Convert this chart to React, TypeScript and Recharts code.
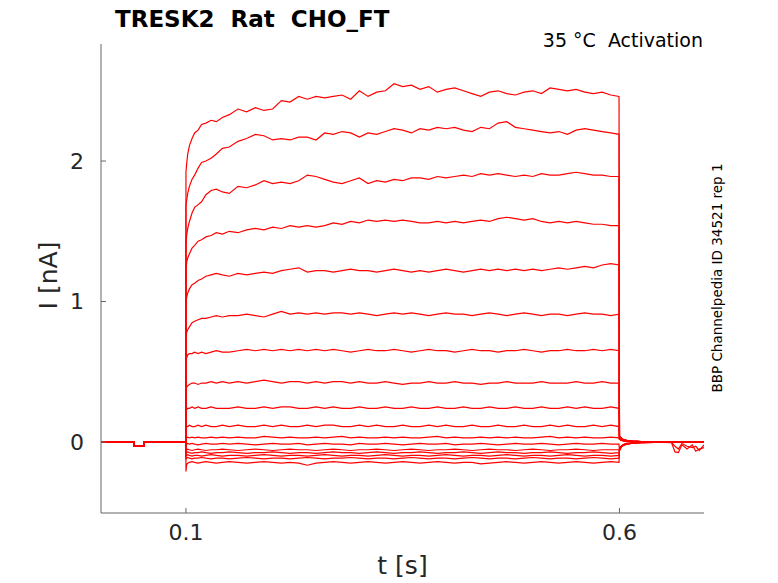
import React from 'react';
import { LineChart, Line, XAxis, YAxis, Label } from 'recharts';

// time grid (s)
const preTimes = [0.002, 0.015, 0.03, 0.0399, 0.04, 0.0514, 0.0515, 0.065, 0.08, 0.0999];
const preVals = [0.003, 0, 0.002, 0, -0.03, -0.03, 0, 0.002, 0, 0];

const pulseTimes = [
  0.1, 0.1008, 0.102, 0.104, 0.107, 0.11, 0.114, 0.118, 0.123, 0.129, 0.135, 0.142,
  0.15, 0.16, 0.17, 0.18, 0.19, 0.2, 0.21, 0.22, 0.23, 0.24,
  0.25, 0.26, 0.27, 0.28, 0.29, 0.3, 0.31, 0.32, 0.33, 0.34,
  0.35, 0.36, 0.37, 0.38, 0.39, 0.4, 0.41, 0.42, 0.43, 0.44,
  0.45, 0.46, 0.47, 0.48, 0.49, 0.5, 0.51, 0.52, 0.53, 0.54,
  0.55, 0.56, 0.57, 0.58, 0.59, 0.5995,
];

const postTimes = [0.6, 0.6015, 0.604, 0.608, 0.615, 0.625, 0.64, 0.66, 0.664, 0.668, 0.672, 0.678, 0.684, 0.688, 0.692, 0.6975];

// current during the step (nA), one array per sweep
const sweep1 = [
  1.92, 1.98, 2.05, 2.11, 2.16, 2.2, 2.22, 2.26, 2.27, 2.29, 2.28, 2.31,
  2.33, 2.37, 2.35, 2.38, 2.36, 2.37, 2.43, 2.42, 2.46, 2.44,
  2.46, 2.45, 2.46, 2.47, 2.44, 2.5, 2.46, 2.49, 2.5, 2.55,
  2.53, 2.54, 2.51, 2.53, 2.49, 2.51, 2.52, 2.5, 2.48, 2.46,
  2.49, 2.5, 2.48, 2.47, 2.49, 2.5, 2.48, 2.52, 2.51, 2.5,
  2.51, 2.49, 2.48, 2.49, 2.47, 2.46,
];
const sweep2 = [
  1.68, 1.72, 1.77, 1.82, 1.87, 1.9, 1.95, 1.99, 2.0, 2.02, 2.05, 2.09,
  2.1, 2.14, 2.16, 2.19, 2.18, 2.15, 2.16, 2.15, 2.17, 2.17,
  2.15, 2.2, 2.19, 2.21, 2.2, 2.17, 2.2, 2.19, 2.21, 2.23,
  2.22, 2.2, 2.23, 2.22, 2.24, 2.23, 2.24, 2.22, 2.21, 2.24,
  2.23, 2.27, 2.28, 2.24, 2.23, 2.22, 2.21, 2.2, 2.21, 2.19,
  2.22, 2.23, 2.22, 2.21, 2.2, 2.19,
];
const sweep3 = [
  1.4, 1.47, 1.52, 1.57, 1.63, 1.67, 1.69, 1.71, 1.76, 1.79, 1.8, 1.78,
  1.77, 1.82, 1.81, 1.83, 1.86, 1.84, 1.85, 1.84, 1.86, 1.9,
  1.89, 1.87, 1.85, 1.84, 1.86, 1.88, 1.84, 1.86, 1.85, 1.87,
  1.86, 1.88, 1.88, 1.87, 1.89, 1.88, 1.89, 1.9, 1.89, 1.91,
  1.9, 1.91, 1.9, 1.89, 1.9, 1.89, 1.91, 1.9, 1.9, 1.91,
  1.92, 1.91, 1.9, 1.9, 1.89, 1.89,
];
const sweep4 = [
  1.22, 1.28, 1.31, 1.34, 1.38, 1.4, 1.43, 1.44, 1.46, 1.47, 1.49, 1.48,
  1.5, 1.49, 1.51, 1.52, 1.51, 1.53, 1.52, 1.54, 1.53, 1.54,
  1.53, 1.54, 1.56, 1.55, 1.57, 1.56, 1.58, 1.57, 1.58, 1.57,
  1.58, 1.57, 1.56, 1.56, 1.57, 1.56, 1.57, 1.56, 1.57, 1.58,
  1.57, 1.59, 1.6, 1.59, 1.58, 1.59, 1.57, 1.56, 1.57, 1.56,
  1.57, 1.56, 1.55, 1.55, 1.54, 1.54,
];
const sweep5 = [
  0.98, 1.03, 1.06, 1.09, 1.12, 1.13, 1.15, 1.16, 1.18, 1.19, 1.2, 1.19,
  1.18, 1.2, 1.19, 1.2, 1.21, 1.2, 1.22, 1.23, 1.24, 1.21,
  1.22, 1.22, 1.21, 1.22, 1.23, 1.22, 1.22, 1.21, 1.22, 1.23,
  1.22, 1.21, 1.22, 1.21, 1.22, 1.23, 1.22, 1.21, 1.22, 1.23,
  1.22, 1.23, 1.22, 1.23, 1.22, 1.23, 1.22, 1.23, 1.24, 1.23,
  1.24, 1.25, 1.24, 1.26, 1.27, 1.26,
];
const sweep6 = [
  0.74, 0.78, 0.8, 0.82, 0.85, 0.86, 0.87, 0.88, 0.88, 0.89, 0.9, 0.89,
  0.9, 0.9, 0.91, 0.9, 0.89, 0.91, 0.93, 0.91, 0.92, 0.91,
  0.92, 0.91, 0.92, 0.92, 0.91, 0.92, 0.91, 0.9, 0.91, 0.92,
  0.91, 0.92, 0.91, 0.9, 0.91, 0.92, 0.91, 0.91, 0.9, 0.91,
  0.92, 0.91, 0.9, 0.91, 0.92, 0.91, 0.9, 0.91, 0.91, 0.9,
  0.91, 0.92, 0.91, 0.91, 0.9, 0.91,
];
const sweep7 = [
  0.57, 0.6, 0.62, 0.63, 0.63, 0.64, 0.63, 0.64, 0.63, 0.64, 0.65, 0.64,
  0.64, 0.65, 0.66, 0.65, 0.66, 0.65, 0.66, 0.65, 0.66, 0.65,
  0.66, 0.65, 0.66, 0.65, 0.64, 0.65, 0.66, 0.65, 0.65, 0.66,
  0.65, 0.64, 0.65, 0.66, 0.65, 0.65, 0.64, 0.65, 0.66, 0.65,
  0.65, 0.64, 0.65, 0.65, 0.66, 0.65, 0.64, 0.65, 0.65, 0.66,
  0.65, 0.65, 0.66, 0.65, 0.66, 0.65,
];
const sweep8 = [
  0.37, 0.39, 0.4, 0.41, 0.42, 0.42, 0.41, 0.42, 0.42, 0.43, 0.42, 0.43,
  0.42, 0.43, 0.42, 0.43, 0.44, 0.43, 0.42, 0.43, 0.43, 0.42,
  0.43, 0.42, 0.43, 0.43, 0.42, 0.43, 0.42, 0.42, 0.43, 0.42,
  0.41, 0.42, 0.42, 0.43, 0.42, 0.42, 0.43, 0.42, 0.42, 0.41,
  0.42, 0.42, 0.43, 0.42, 0.42, 0.42, 0.43, 0.42, 0.42, 0.42,
  0.43, 0.42, 0.42, 0.43, 0.42, 0.42,
];
const sweep9 = [
  0.22, 0.23, 0.24, 0.24, 0.25, 0.24, 0.25, 0.24, 0.24, 0.25, 0.24, 0.24,
  0.24, 0.25, 0.24, 0.24, 0.25, 0.24, 0.25, 0.25, 0.24, 0.24,
  0.25, 0.24, 0.25, 0.24, 0.24, 0.25, 0.24, 0.24, 0.25, 0.24,
  0.24, 0.25, 0.24, 0.24, 0.25, 0.24, 0.24, 0.25, 0.24, 0.24,
  0.25, 0.24, 0.24, 0.25, 0.24, 0.24, 0.25, 0.24, 0.24, 0.25,
  0.24, 0.25, 0.24, 0.24, 0.25, 0.24,
];
const sweep10 = [
  0.1, 0.11, 0.11, 0.12, 0.11, 0.11, 0.12, 0.11, 0.12, 0.11, 0.11, 0.12,
  0.11, 0.12, 0.11, 0.11, 0.12, 0.11, 0.12, 0.11, 0.11, 0.12,
  0.11, 0.12, 0.12, 0.11, 0.11, 0.12, 0.11, 0.12, 0.11, 0.11,
  0.12, 0.11, 0.11, 0.12, 0.11, 0.12, 0.11, 0.11, 0.12, 0.11,
  0.11, 0.12, 0.11, 0.11, 0.12, 0.11, 0.11, 0.12, 0.11, 0.12,
  0.11, 0.11, 0.12, 0.11, 0.12, 0.11,
];
const sweep11 = [
  0.025, 0.03, 0.035, 0.03, 0.035, 0.03, 0.035, 0.03, 0.03, 0.035, 0.03, 0.035,
  0.03, 0.035, 0.03, 0.03, 0.04, 0.035, 0.03, 0.035, 0.03, 0.03,
  0.035, 0.03, 0.035, 0.04, 0.03, 0.035, 0.03, 0.03, 0.035, 0.03,
  0.035, 0.03, 0.03, 0.035, 0.04, 0.03, 0.035, 0.03, 0.03, 0.035,
  0.03, 0.035, 0.03, 0.035, 0.03, 0.03, 0.035, 0.04, 0.03, 0.035,
  0.03, 0.035, 0.03, 0.03, 0.035, 0.03,
];
const sweep12 = [
  -0.02, -0.015, -0.01, -0.015, -0.01, -0.015, -0.02, -0.015, -0.01, -0.015, -0.015, -0.01,
  -0.015, -0.01, -0.015, -0.02, -0.015, -0.01, -0.015, -0.015, -0.01, -0.02,
  -0.015, -0.01, -0.015, -0.015, -0.02, -0.01, -0.015, -0.015, -0.01, -0.015,
  -0.02, -0.015, -0.01, -0.015, -0.015, -0.01, -0.02, -0.015, -0.015, -0.01,
  -0.015, -0.02, -0.015, -0.01, -0.015, -0.015, -0.01, -0.015, -0.02, -0.015,
  -0.01, -0.015, -0.015, -0.01, -0.015, -0.015,
];
const sweep13 = [
  -0.06, -0.055, -0.05, -0.055, -0.06, -0.055, -0.05, -0.055, -0.06, -0.055, -0.055, -0.05,
  -0.055, -0.06, -0.055, -0.05, -0.055, -0.06, -0.055, -0.05, -0.055, -0.055,
  -0.06, -0.055, -0.05, -0.055, -0.06, -0.055, -0.055, -0.05, -0.055, -0.06,
  -0.055, -0.05, -0.055, -0.06, -0.055, -0.055, -0.05, -0.055, -0.06, -0.055,
  -0.05, -0.055, -0.055, -0.06, -0.055, -0.05, -0.055, -0.06, -0.055, -0.055,
  -0.05, -0.055, -0.06, -0.055, -0.055, -0.055,
];
const sweep14 = [
  -0.08, -0.075, -0.07, -0.075, -0.08, -0.075, -0.075, -0.07, -0.075, -0.08, -0.075, -0.075,
  -0.07, -0.075, -0.08, -0.075, -0.075, -0.07, -0.075, -0.08, -0.075, -0.075,
  -0.08, -0.075, -0.07, -0.075, -0.075, -0.08, -0.075, -0.07, -0.075, -0.08,
  -0.075, -0.075, -0.07, -0.075, -0.08, -0.075, -0.075, -0.07, -0.075, -0.08,
  -0.075, -0.07, -0.075, -0.075, -0.08, -0.075, -0.075, -0.07, -0.075, -0.08,
  -0.075, -0.075, -0.07, -0.075, -0.08, -0.075,
];
const sweep15 = [
  -0.1, -0.095, -0.09, -0.095, -0.1, -0.095, -0.095, -0.1, -0.095, -0.09, -0.095, -0.1,
  -0.095, -0.095, -0.1, -0.095, -0.09, -0.095, -0.1, -0.095, -0.095, -0.1,
  -0.095, -0.09, -0.095, -0.1, -0.095, -0.095, -0.1, -0.095, -0.09, -0.095,
  -0.1, -0.095, -0.095, -0.1, -0.095, -0.09, -0.095, -0.1, -0.095, -0.095,
  -0.1, -0.095, -0.09, -0.095, -0.1, -0.095, -0.095, -0.1, -0.095, -0.09,
  -0.095, -0.1, -0.095, -0.095, -0.1, -0.095,
];
const sweep16 = [
  -0.12, -0.115, -0.11, -0.115, -0.12, -0.115, -0.115, -0.11, -0.115, -0.12, -0.115, -0.115,
  -0.12, -0.115, -0.11, -0.115, -0.12, -0.115, -0.115, -0.12, -0.115, -0.11,
  -0.115, -0.12, -0.115, -0.115, -0.11, -0.115, -0.12, -0.115, -0.115, -0.12,
  -0.115, -0.11, -0.115, -0.12, -0.115, -0.115, -0.12, -0.115, -0.11, -0.115,
  -0.12, -0.115, -0.115, -0.12, -0.115, -0.11, -0.115, -0.12, -0.115, -0.115,
  -0.12, -0.115, -0.11, -0.115, -0.12, -0.115,
];
const sweep17 = [
  -0.21, -0.16, -0.15, -0.145, -0.14, -0.145, -0.15, -0.145, -0.14, -0.145, -0.15, -0.145,
  -0.14, -0.145, -0.15, -0.145, -0.14, -0.145, -0.15, -0.145, -0.15, -0.165,
  -0.15, -0.145, -0.14, -0.145, -0.15, -0.145, -0.14, -0.145, -0.15, -0.145,
  -0.14, -0.145, -0.15, -0.145, -0.14, -0.145, -0.15, -0.145, -0.145, -0.155,
  -0.15, -0.145, -0.14, -0.145, -0.15, -0.145, -0.14, -0.145, -0.15, -0.145,
  -0.14, -0.145, -0.15, -0.145, -0.14, -0.145,
];

// tail currents after the step
const tailHigh = [0.04, 0.03, 0.02, 0.012, 0.006, 0.003, 0, 0, 0, 0, 0, 0, 0, 0, 0, 0];
const tailMid = [0.02, 0.015, 0.01, 0.006, 0.003, 0.002, 0, 0.002, 0, 0, 0.002, 0, 0, 0.002, 0, 0];
const tailLow = [-0.06, -0.04, -0.025, -0.015, -0.008, -0.004, -0.002, -0.002, 0, 0, 0, 0, 0, 0, 0, 0];
const tailDipA = [-0.04, -0.03, -0.02, -0.01, -0.005, 0, 0, 0, -0.03, -0.05, -0.01, -0.03, -0.04, -0.03, -0.06, -0.02];
const tailDipB = [-0.05, -0.035, -0.02, -0.01, -0.005, -0.002, 0, -0.004, -0.07, -0.075, -0.02, -0.05, -0.02, -0.065, -0.05, -0.04];

const sweeps = [
  sweep1, sweep2, sweep3, sweep4, sweep5, sweep6, sweep7, sweep8, sweep9,
  sweep10, sweep11, sweep12, sweep13, sweep14, sweep15, sweep16, sweep17,
];
const sweepTails = [
  tailHigh, tailHigh, tailHigh, tailHigh, tailHigh, tailHigh, tailMid, tailMid, tailMid,
  tailMid, tailMid, tailLow, tailLow, tailLow, tailLow, tailDipA, tailDipB,
];

const xTicks = [0.1, 0.6];
const yTicks = [0, 1, 2];

const allTimes = [...preTimes, ...pulseTimes, ...postTimes];
const rows = allTimes.map((t, r) => {
  const row: Record<string, number> = { t };
  sweeps.forEach((vals, i) => {
    let v: number;
    if (r < preTimes.length) v = preVals[r];
    else if (r < preTimes.length + pulseTimes.length) v = vals[r - preTimes.length];
    else v = sweepTails[i][r - preTimes.length - pulseTimes.length];
    row[`s${i}`] = v;
  });
  return row;
});

const FONT = 'DejaVu Sans';
const AXIS = '#666666';
const INK = '#262626';

const renderYLabel = (props: any) => {
  const vb = props.viewBox || { x: 41, y: 44, width: 60, height: 469 };
  const cx = vb.x + vb.width - 53;
  const cy = vb.y + vb.height / 2 - 3;
  return (
    <text
      x={cx}
      y={cy}
      transform={`rotate(-90 ${cx} ${cy})`}
      textAnchor="middle"
      dy="0.35em"
      fontSize={25}
      fontFamily={FONT}
      fill={INK}
    >
      I [nA]
    </text>
  );
};

export default function App() {
  return (
    <div style={{ position: 'absolute', left: 0, top: 0, width: 778, height: 583, background: '#fff' }}>
      <LineChart
        width={778}
        height={583}
        data={rows}
        margin={{ top: 44, right: 74, bottom: 5, left: 41 }}
      >
        <XAxis
          dataKey="t"
          type="number"
          domain={[0.002, 0.6975]}
          allowDataOverflow
          ticks={xTicks}
          height={65}
          stroke={AXIS}
          tickSize={-5}
          tickMargin={16}
          tick={{ fill: INK, fontSize: 22, fontFamily: FONT }}
        >
          <Label
            value="t [s]"
            position="insideBottom"
            offset={4}
            fontSize={25}
            fontFamily={FONT}
            fill={INK}
          />
        </XAxis>
        <YAxis
          type="number"
          domain={[-0.505, 2.833]}
          allowDataOverflow
          ticks={yTicks}
          width={60}
          stroke={AXIS}
          tickSize={-5}
          tickMargin={22}
          tick={{ fill: INK, fontSize: 22, fontFamily: FONT }}
        >
          <Label content={renderYLabel} />
        </YAxis>
        {sweeps.map((_, i) => (
          <Line
            key={i}
            dataKey={`s${i}`}
            type="linear"
            stroke="#ff0000"
            strokeWidth={1.2}
            dot={false}
            activeDot={false}
            isAnimationActive={false}
          />
        ))}
      </LineChart>
      <svg
        width={778}
        height={583}
        style={{ position: 'absolute', left: 0, top: 0, pointerEvents: 'none' }}
      >
        <text x={115} y={27} fontSize={23} fontWeight="bold" fontFamily={FONT} fill="#000">
          TRESK2{'\u00a0\u00a0'}Rat{'\u00a0\u00a0'}CHO_FT
        </text>
        <text x={703} y={47} textAnchor="end" fontSize={19} fontFamily={FONT} fill="#000">
          35 °C{'\u00a0\u00a0'}Activation
        </text>
        <text
          x={722}
          y={278}
          transform="rotate(-90 722 278)"
          textAnchor="middle"
          fontSize={13.5}
          fontFamily={FONT}
          fill="#000"
        >
          BBP Channelpedia ID 34521 rep 1
        </text>
      </svg>
    </div>
  );
}
